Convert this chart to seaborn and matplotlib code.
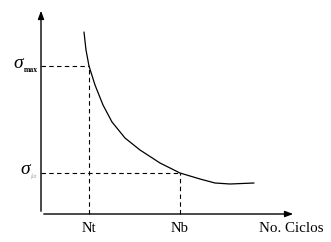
import matplotlib
matplotlib.use("Agg")
import matplotlib.pyplot as plt
import seaborn as sns
import pandas as pd

sns.set_theme(style="white")
plt.rcParams['font.family'] = ['Liberation Serif', 'DejaVu Serif']

# curve values (x: cycles, y: stress) in arbitrary units
cycles = [43, 45, 48, 54, 62, 71, 84, 99, 119, 139, 159, 174, 189, 213]
stress = [182, 164, 148, 129, 109, 92, 76, 64, 51, 41, 35, 31, 30, 31]
nt, nb = 48, 139
s_max, s_fat = 148, 41
x_labels = ["Nt", "Nb"]

df = pd.DataFrame({"ciclos": cycles, "sigma": stress})

fig = plt.figure(figsize=(3.31, 2.42), dpi=100)
ax = fig.add_axes([0, 0, 1, 1])
ax.set_xlim(-41, 290)
ax.set_ylim(-28, 214)
ax.axis("off")

sns.lineplot(data=df, x="ciclos", y="sigma", ax=ax, color="black", lw=0.9,
             sort=False, estimator=None)

# axes with arrows
ax.annotate("", xy=(0, 206), xytext=(0, 0),
            arrowprops=dict(arrowstyle="-|>,head_length=0.4,head_width=0.15", color="black", lw=1.0))
ax.annotate("", xy=(255, 0), xytext=(0, 0),
            arrowprops=dict(arrowstyle="-|>,head_length=0.4,head_width=0.15", color="black", lw=1.0))

# dashed guide lines
ax.plot([0, nt], [s_max, s_max], ls=(0, (4, 3)), color="black", lw=0.8)
ax.plot([nt, nt], [0, s_max], ls=(0, (4, 3)), color="black", lw=0.8)
ax.plot([0, nb], [s_fat, s_fat], ls=(0, (4, 3)), color="black", lw=0.8)
ax.plot([nb, nb], [0, s_fat], ls=(0, (4, 3)), color="black", lw=0.8)

# labels
for xv, lab in zip([nt, nb], x_labels):
    ax.text(xv, -8, lab, ha="center", va="top", fontsize=10.5, color="black")
ax.text(218, -8, "No. Ciclos", ha="left", va="top", fontsize=10.8, color="black")

ax.text(-18, s_max + 2, "σ", ha="right", va="center", fontsize=14, color="black",
        style="italic")
ax.text(-17, s_max - 4, "max", ha="left", va="center", fontsize=5.5, color="black",
        weight="bold")
ax.text(-11, s_fat + 3, "σ", ha="right", va="center", fontsize=14, color="black",
        style="italic")
ax.text(-10, s_fat - 3, "fat", ha="left", va="center", fontsize=4.5, color="#aaaaaa",
        style="italic")

fig.savefig("out.png", dpi=100)
